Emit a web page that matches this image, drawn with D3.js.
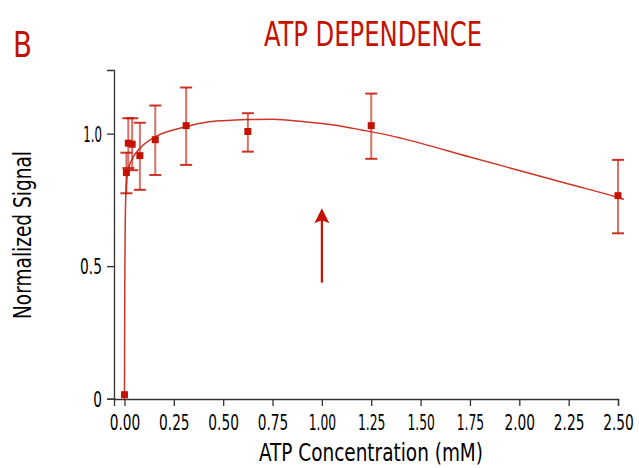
<!DOCTYPE html>
<html>
<head>
<meta charset="utf-8">
<script src="https://cdn.jsdelivr.net/npm/d3@7"></script>
<style>
  body { margin: 0; background: #fff; }
  svg text { font-family: "DejaVu Sans Condensed", "Liberation Sans Narrow", sans-serif; }
</style>
</head>
<body>
<div id="chart"></div>
<script>
// measured points (ATP mM vs normalized signal) with error bars
var atpConc = [0, 0.0098, 0.0195, 0.039, 0.078, 0.156, 0.3125, 0.625, 1.25, 2.5];
var signal  = [0.015, 0.853, 0.964, 0.960, 0.917, 0.977, 1.030, 1.008, 1.030, 0.766];
var errUp   = [0, 0.075, 0.094, 0.098, 0.124, 0.129, 0.144, 0.069, 0.121, 0.135];
var errDown = [0, 0.078, 0.094, 0.098, 0.129, 0.133, 0.148, 0.076, 0.125, 0.142];

// fitted curve
var fitX = [0, 0.001, 0.002, 0.004, 0.0065, 0.0098, 0.0195, 0.04, 0.08, 0.156, 0.31, 0.43, 0.5, 0.62, 0.75, 0.9, 1.0, 1.1, 1.2, 1.3, 1.4, 1.75, 2.0, 2.25, 2.5, 2.53];
var fitY = [0, 0.30, 0.48, 0.66, 0.76, 0.81, 0.863, 0.905, 0.946, 0.988, 1.026, 1.045, 1.049, 1.053, 1.054, 1.046, 1.038, 1.028, 1.014, 1.000, 0.983, 0.912, 0.861, 0.810, 0.759, 0.752];

var xTicks = [0, 0.25, 0.5, 0.75, 1.0, 1.25, 1.5, 1.75, 2.0, 2.25, 2.5];
var yTicks = [0, 0.5, 1.0];
var yTickLabels = ["0", "0.5", "1.0"];

// arrow at 1 mM
var arrowX = 1.0;
var arrowFrom = 0.438;
var arrowTo = 0.718;

var red = "#c41200";
var svgWidth = 639, svgHeight = 468;

// narrow font look: squeeze each label to a width
function narrowWidth(s) {
  var w = 0;
  for (var c of s) w += (c === "1") ? 5.5 : (c === ".") ? 4.5 : 8.7;
  return w;
}

var svg = d3.select("#chart").append("svg")
  .attr("width", svgWidth)
  .attr("height", svgHeight);

var x = d3.scaleLinear().domain([-0.053, 2.5]).range([114, 618]);
var y = d3.scaleLinear().domain([0, 1.24]).range([398.7, 70]);

// axes
var xAxis = svg.append("g")
  .attr("transform", "translate(0,399)")
  .call(d3.axisBottom(x).tickValues(xTicks).tickFormat(d3.format(".2f")).tickSize(7).tickPadding(5));
var yAxis = svg.append("g")
  .attr("transform", "translate(114,0)")
  .call(d3.axisLeft(y).tickValues(yTicks).tickFormat((d, i) => yTickLabels[i]).tickSize(7).tickPadding(5));

[xAxis, yAxis].forEach(function(a) {
  a.select(".domain").attr("stroke", "#333").attr("stroke-width", 1.3);
  a.selectAll(".tick line").attr("stroke", "#333").attr("stroke-width", 1.3);
  a.selectAll(".tick text").attr("fill", "#000").attr("font-size", 21)
    .attr("font-family", "'DejaVu Sans Condensed', sans-serif")
    .attr("textLength", function() { return narrowWidth(this.textContent); })
    .attr("lengthAdjust", "spacingAndGlyphs");
});
xAxis.selectAll(".tick text").attr("dy", "0.9em");
yAxis.selectAll(".tick text").attr("dy", "0.36em");

// fitted curve
var line = d3.line().x((d, i) => x(d)).y((d, i) => y(fitY[i])).curve(d3.curveMonotoneX);
svg.append("path")
  .datum(fitX)
  .attr("d", line)
  .attr("fill", "none")
  .attr("stroke", red)
  .attr("stroke-width", 1.5)
  .attr("opacity", 0.85);

// error bars
var eb = svg.append("g");
atpConc.forEach(function(c, i) {
  if (errUp[i] === 0) return;
  var cx = x(c);
  eb.append("line")
    .attr("x1", cx).attr("x2", cx)
    .attr("y1", y(signal[i] + errUp[i])).attr("y2", y(signal[i] - errDown[i]))
    .attr("stroke", red).attr("stroke-width", 2).attr("opacity", 0.6);
  [signal[i] + errUp[i], signal[i] - errDown[i]].forEach(function(v) {
    eb.append("line")
      .attr("x1", cx - 6).attr("x2", cx + 6)
      .attr("y1", y(v)).attr("y2", y(v))
      .attr("stroke", red).attr("stroke-width", 2).attr("opacity", 0.85);
  });
});

// markers
svg.append("g").selectAll("rect")
  .data(atpConc)
  .enter()
  .append("rect")
  .attr("x", d => x(d) - 3.5)
  .attr("y", (d, i) => y(signal[i]) - 3.5)
  .attr("width", 7)
  .attr("height", 7)
  .attr("fill", red);

// arrow
var ax = x(arrowX);
svg.append("line")
  .attr("x1", ax).attr("x2", ax)
  .attr("y1", y(arrowFrom)).attr("y2", y(arrowTo) + 10)
  .attr("stroke", red).attr("stroke-width", 2.2);
svg.append("path")
  .attr("d", `M${ax},${y(arrowTo)} L${ax + 7.5},${y(arrowTo) + 15} L${ax},${y(arrowTo) + 12} L${ax - 7.5},${y(arrowTo) + 15} Z`)
  .attr("fill", red);

// titles and labels
svg.append("text")
  .attr("x", 373).attr("y", 46)
  .attr("text-anchor", "middle")
  .attr("font-size", 33)
  .attr("fill", red)
  .attr("textLength", 218).attr("lengthAdjust", "spacingAndGlyphs")
  .text("ATP DEPENDENCE");

svg.append("text")
  .attr("x", 13).attr("y", 57)
  .attr("font-size", 36)
  .attr("fill", red)
  .attr("textLength", 19).attr("lengthAdjust", "spacingAndGlyphs")
  .text("B");

svg.append("text")
  .attr("x", 371).attr("y", 461)
  .attr("text-anchor", "middle")
  .attr("font-size", 25)
  .attr("fill", "#000")
  .attr("textLength", 224).attr("lengthAdjust", "spacingAndGlyphs")
  .text("ATP Concentration (mM)");

svg.append("text")
  .attr("transform", "translate(31,235) rotate(-90)")
  .attr("text-anchor", "middle")
  .attr("font-size", 25)
  .attr("fill", "#000")
  .attr("textLength", 168).attr("lengthAdjust", "spacingAndGlyphs")
  .text("Normalized Signal");
</script>
</body>
</html>
